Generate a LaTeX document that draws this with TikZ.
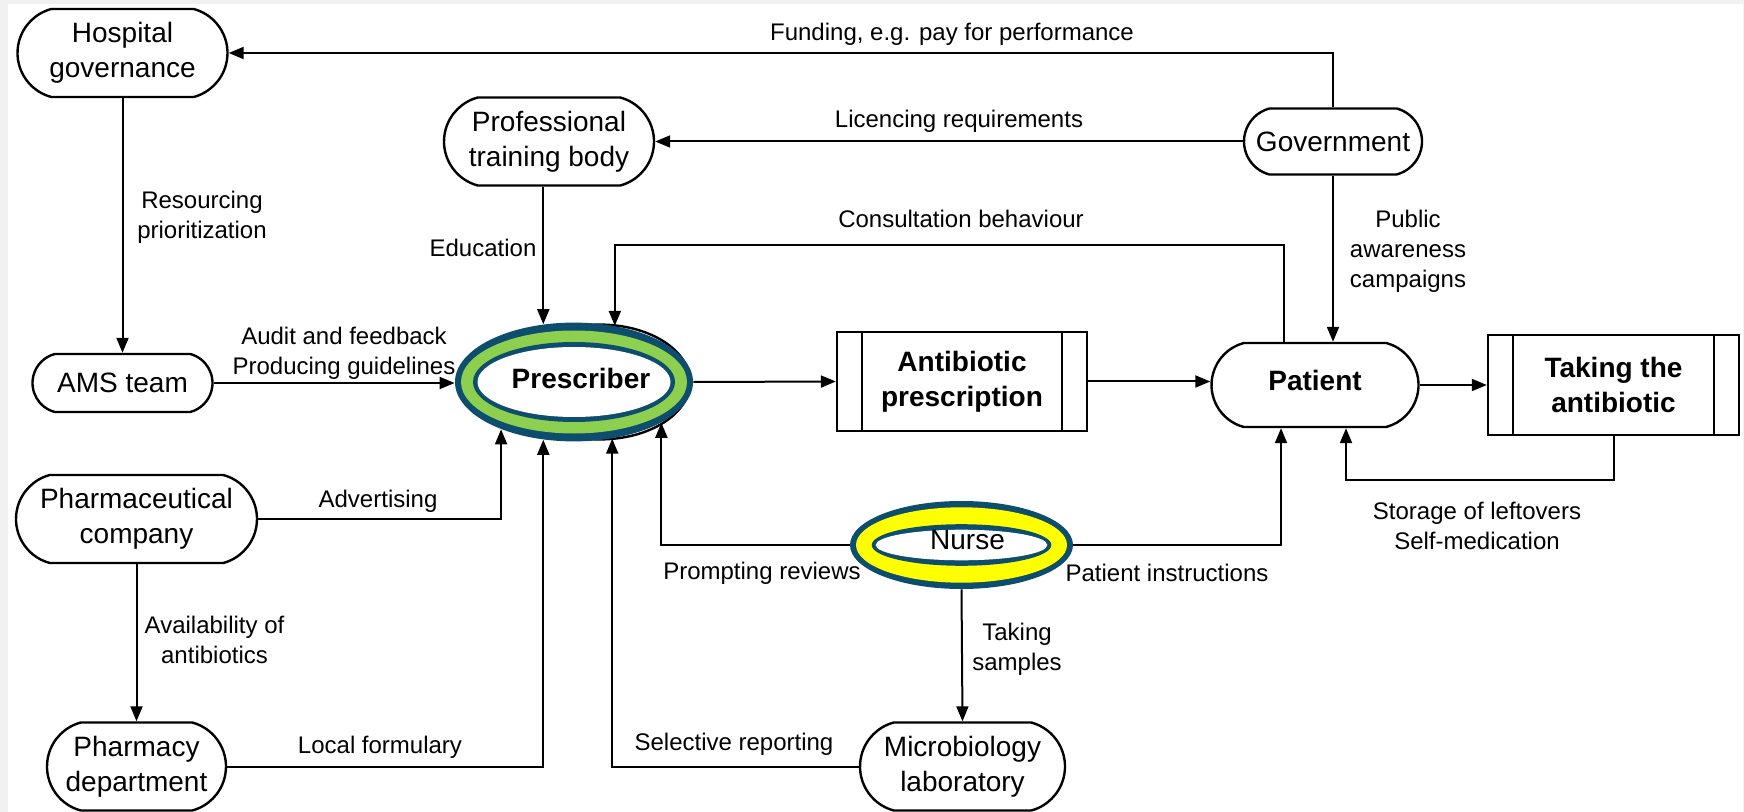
\documentclass[tikz,border=0pt]{standalone}
\usepackage{fontspec}
\setmainfont{Liberation Sans}
\usetikzlibrary{shapes.misc,shapes.geometric,arrows.meta}
\definecolor{ringblue}{HTML}{0D4D6E}
\definecolor{ringgreen}{HTML}{8DCF4E}
\definecolor{ringyellow}{HTML}{FFFF00}
\definecolor{pagegray}{HTML}{F1F1F1}
\begin{document}
\begin{tikzpicture}[x=0.5pt,y=-0.5pt,
  every node/.style={font=\fontsize{12}{15}\selectfont},
  flow/.style={draw, line width=1.2pt, rounded rectangle, rounded rectangle arc length=150,
    inner sep=2pt, align=center, font=\fontsize{14}{17.5}\selectfont},
  proc/.style={draw, line width=1.2pt, rectangle, inner sep=2pt, align=center,
    font=\bfseries\fontsize{14}{17.5}\selectfont},
  lbl/.style={align=center, inner sep=0pt},
  arr/.style={line width=1pt, -{Triangle[length=7.5pt,width=6pt]}},
]
% page
\fill[pagegray] (0,0) rectangle (1744,812);
\fill[white] (8,4) rectangle (1743,812);
\useasboundingbox (0,0) rectangle (1744,812);

% actors
\node[flow, minimum width=109pt, minimum height=44pt] (hosp) at (122.5,53) {Hospital\\governance};
\node[flow, minimum width=109pt, minimum height=44pt] (prof) at (549,141.5) {Professional\\training body};
\node[flow, minimum width=94pt, minimum height=29pt] (ams) at (122.5,383) {AMS team};
\node[flow, minimum width=124.5pt, minimum height=44pt] (pharmco) at (136.5,519) {Pharmaceutical\\company};
\node[flow, minimum width=93.5pt, minimum height=44pt] (pharmdep) at (136.5,766.5) {Pharmacy\\department};
\node[flow, minimum width=106.5pt, minimum height=44pt] (micro) at (962.5,766.5) {Microbiology\\laboratory};
\node[flow, minimum width=93pt, minimum height=33pt] (gov) at (1333,141.5) {Government};
\node[flow, minimum width=107.5pt, minimum height=42pt, font=\bfseries\fontsize{14}{17.5}\selectfont,
      text height=10pt, text depth=5pt] (patient) at (1315,385) {Patient};

% processes
\node[proc, minimum width=125pt, minimum height=49.5pt] (abx) at (962,381.5) {Antibiotic\\prescription};
\node[proc, minimum width=125.5pt, minimum height=50pt] (take) at (1613.5,385) {Taking the\\antibiotic};
\foreach \n in {abx,take}
  \draw[line width=1.2pt] ([xshift=13pt]\n.north west) -- ([xshift=13pt]\n.south west)
                          ([xshift=-13pt]\n.north east) -- ([xshift=-13pt]\n.south east);

% prescriber: original outline, then the highlight ring on top
\coordinate (pc) at (574,382);
\draw[line width=1.2pt] (600,382) ellipse [x radius=45pt, y radius=28.7pt];
\fill[ringblue] (pc) ellipse [x radius=59.5pt, y radius=29.7pt];
\fill[ringgreen] (pc) ellipse [x radius=56.5pt, y radius=25.75pt];
\fill[ringblue] (pc) ellipse [x radius=50.5pt, y radius=20pt];
\fill[white] (pc) ellipse [x radius=48.25pt, y radius=17.5pt];
\node[ellipse, minimum width=119pt, minimum height=59.4pt, inner sep=0pt,
      font=\bfseries\fontsize{14}{17.5}\selectfont, text height=10pt, text depth=4pt]
      (presc) at (pc) {\hspace*{7pt}Prescriber};

% nurse with highlight ring
\coordinate (nc) at (961.5,545);
\fill[ringblue] (nc) ellipse [x radius=55.75pt, y radius=22pt];
\fill[ringyellow] (nc) ellipse [x radius=52.75pt, y radius=18.85pt];
\fill[ringblue] (nc) ellipse [x radius=44.9pt, y radius=10.4pt];
\fill[white] (nc) ellipse [x radius=42.9pt, y radius=7.65pt];
\node[ellipse, minimum width=111.5pt, minimum height=44pt, inner sep=0pt,
      font=\fontsize{14}{17}\selectfont, text height=10pt, text depth=6pt]
      (nurse) at (nc) {\hspace*{6pt}Nurse};

% rows used by routed connectors
\coordinate (cbrow) at (0,245);
\coordinate (strow) at (0,480);

% connectors
\draw[arr] (gov.north) |- (hosp.east);
\draw[arr] (gov.west) -- (prof.east);
\draw[arr] (gov.south) -- (gov.south |- patient.north);
\draw[arr] ([xshift=-15.5pt]patient.north) |- (presc.54 |- cbrow) -- (presc.54);
\draw[arr] (presc.118 |- prof.south) -- (presc.118);
\draw[arr] (hosp.south) -- (ams.north);
\draw[arr] (ams.east) -- (ams.east -| presc.west);
\draw[arr] (pharmco.east) -| (presc.213);
\draw[arr] (pharmco.south) -- (pharmdep.north);
\draw[arr] (pharmdep.east) -| (presc.242);
\draw[arr] (micro.west) -| (presc.304);
\draw[arr] (nurse.west) -| (presc.335);
\draw[arr] (nurse.east) -| ([xshift=-17pt]patient.south);
\draw[arr] (nurse.south) -- (micro.north);
\draw[arr] (presc.east) -- (abx.west);
\draw[arr] (abx.east) -- (abx.east -| patient.west);
\draw[arr] (patient.east) -- (take.west);
\draw[arr] (take.south) |- ([xshift=15.5pt]patient.south |- strow) -- ([xshift=15.5pt]patient.south);

% connector labels
\node[lbl] (lfund) at (952,34) {Funding, e.g. pay for performance};
\node[lbl] (llic) at (959,121) {Licencing requirements};
\node[lbl] (lpub) at (1408,251) {Public\\awareness\\campaigns};
\node[lbl] (lcons) at (961,219) {Consultation behaviour};
\node[lbl] (lres) at (202,217) {Resourcing\\prioritization};
\node[lbl] (ledu) at (483,248) {Education};
\node[lbl] (laud) at (344,353) {Audit and feedback\\Producing guidelines};
\node[lbl] (ladv) at (378,501) {Advertising};
\node[lbl] (lavail) at (214.5,640) {Availability of\\antibiotics};
\node[lbl] (lform) at (380,747) {Local formulary};
\node[lbl] (lsel) at (734,744) {Selective reporting};
\node[lbl] (lprompt) at (762,573) {Prompting reviews};
\node[lbl] (linstr) at (1167,573) {Patient instructions};
\node[lbl] (lsamp) at (1017,649) {Taking\\samples};
\node[lbl] (lstore) at (1477,526) {Storage of leftovers\\Self-medication};
\end{tikzpicture}
\end{document}
